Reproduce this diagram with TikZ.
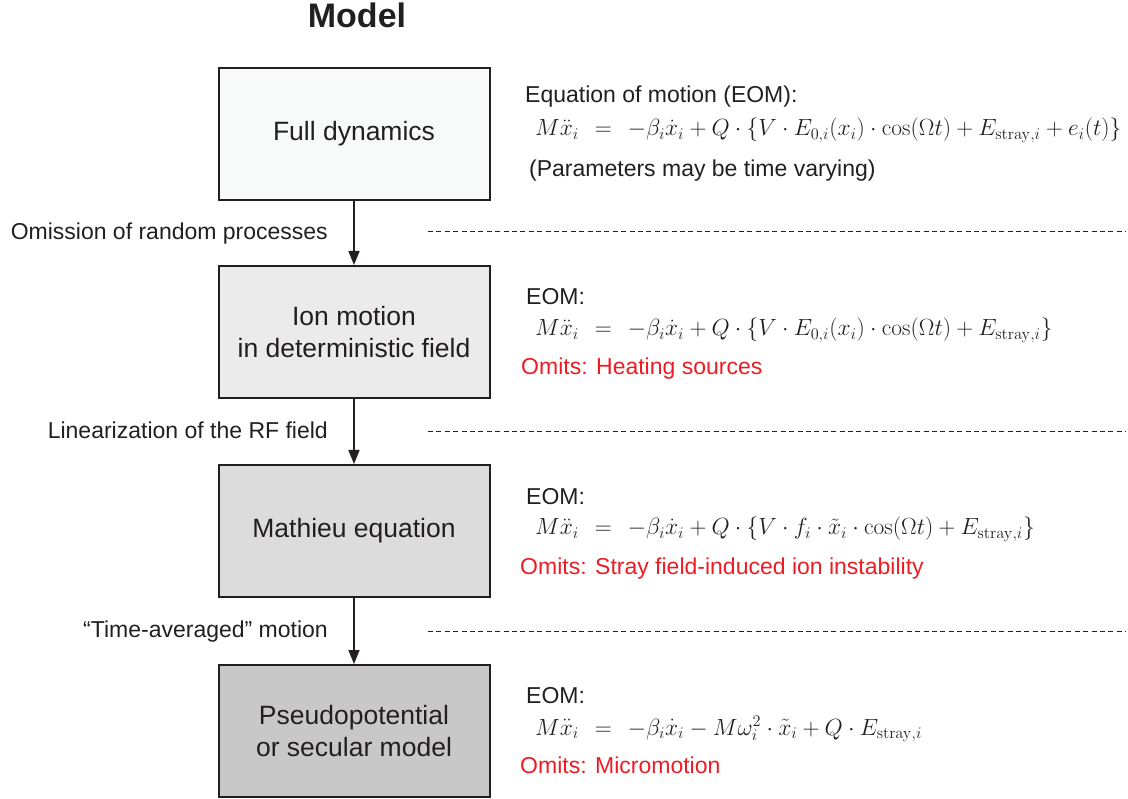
\documentclass[tikz,border=0pt]{standalone}
\usepackage[no-math]{fontspec}
\usepackage{graphicx}
\setmainfont{Liberation Sans}
\usetikzlibrary{arrows.meta}
\definecolor{ink}{HTML}{231F20}
\definecolor{alert}{HTML}{ED1C24}
\definecolor{fillA}{HTML}{F8FAF9}
\definecolor{fillB}{HTML}{EBEBEB}
\definecolor{fillC}{HTML}{DCDCDC}
\definecolor{fillD}{HTML}{C8C8C8}
\newcommand{\eqgap}{\hspace{7pt}}
\newcommand{\eom}[1]{\scalebox{1.356}{$#1$}}
\begin{document}
\begin{tikzpicture}[x=1pt,y=-1pt,
  modelbox/.style={draw=ink, line width=2pt, minimum width=271pt, minimum height=132pt,
    inner sep=0pt, align=center, text=ink, font=\fontsize{26.5}{31.5}\selectfont},
  arr/.style={draw=ink, line width=1.6pt, -{Triangle[length=14pt,width=11pt]}},
  sep/.style={draw=ink, line width=1pt, dash pattern=on 5pt off 3.4pt},
  steplabel/.style={anchor=base east, inner sep=0pt, text=ink, font=\fontsize{23}{27}\selectfont},
  headtext/.style={anchor=base west, inner sep=0pt, text=ink, font=\fontsize{23}{27}\selectfont},
  eqtext/.style={anchor=base west, inner sep=0pt, text=ink, font=\fontsize{18.3}{22}\selectfont},
  omits/.style={anchor=base west, inner sep=0pt, text=alert, font=\fontsize{23}{27}\selectfont}]
\useasboundingbox (0,0) rectangle (1128,799);

% title
\node[anchor=base, inner sep=0pt, text=ink, font=\fontsize{34}{40}\selectfont\bfseries] (title) at (357,28) {Model};

% model hierarchy
\node[modelbox, fill=fillA] (full) at (354,134) {Full dynamics};
\node[modelbox, fill=fillB] (ion) at (354,332) {Ion motion\\in deterministic field};
\node[modelbox, fill=fillC] (mathieu) at (354,531) {Mathieu equation};
\node[modelbox, fill=fillD] (pseudo) at (354,731) {Pseudopotential\\or secular model};

\draw[arr] (full) -- (ion);
\draw[arr] (ion) -- (mathieu);
\draw[arr] (mathieu) -- (pseudo);

% approximation steps
\node[steplabel] (s1) at (328,240) {Omission of random processes};
\node[steplabel] (s2) at (328,439) {Linearization of the RF field};
\node[steplabel] (s3) at (328,637) {``Time-averaged'' motion};

\coordinate (d1a) at (428,232); \coordinate (d1b) at (1126,232);
\coordinate (d2a) at (428,432); \coordinate (d2b) at (1126,432);
\coordinate (d3a) at (428,631); \coordinate (d3b) at (1126,631);
\draw[sep] (d1a) -- (d1b);
\draw[sep] (d2a) -- (d2b);
\draw[sep] (d3a) -- (d3b);

% equations of motion
\node[headtext] (h1) at (525,103) {Equation of motion (EOM):};
\node[eqtext] (e1) at (535,136) {\eom{M\ddot{x}_i\eqgap=\eqgap-\beta_i\dot{x}_i+Q\cdot\{V\cdot E_{0,i}(x_i)\cdot\cos(\Omega t)+E_{\mathrm{stray},i}+e_i(t)\}}};
\node[headtext] (n1) at (529,177) {(Parameters may be time varying)};

\node[headtext] (h2) at (526,305) {EOM:};
\node[eqtext] (e2) at (535,336) {\eom{M\ddot{x}_i\eqgap=\eqgap-\beta_i\dot{x}_i+Q\cdot\{V\cdot E_{0,i}(x_i)\cdot\cos(\Omega t)+E_{\mathrm{stray},i}\}}};
\node[omits] (o2) at (521,375) {Omits: Heating sources};

\node[headtext] (h3) at (526,504) {EOM:};
\node[eqtext] (e3) at (535,535) {\eom{M\ddot{x}_i\eqgap=\eqgap-\beta_i\dot{x}_i+Q\cdot\{V\cdot f_i\cdot\tilde{x}_i\cdot\cos(\Omega t)+E_{\mathrm{stray},i}\}}};
\node[omits] (o3) at (520,574) {Omits: Stray field-induced ion instability};

\node[headtext] (h4) at (526,703) {EOM:};
\node[eqtext] (e4) at (535,735) {\eom{M\ddot{x}_i\eqgap=\eqgap-\beta_i\dot{x}_i-M\omega_i^2\cdot\tilde{x}_i+Q\cdot E_{\mathrm{stray},i}}};
\node[omits] (o4) at (520,773) {Omits: Micromotion};
\end{tikzpicture}
\end{document}
